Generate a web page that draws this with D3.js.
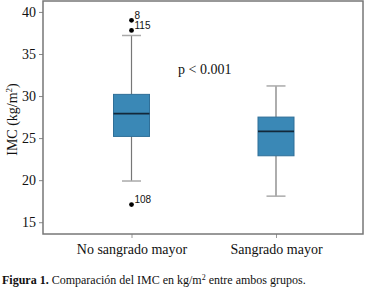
<!DOCTYPE html>
<html><head><meta charset="utf-8">
<script src="https://cdn.jsdelivr.net/npm/d3@7"></script>
<style>body{margin:0;background:#fff}svg{display:block}</style>
</head><body>
<svg id="c" width="365" height="291"></svg>
<script>
const categories = ["No sangrado mayor", "Sangrado mayor"];
const q1 = [25.2, 22.9];
const median = [27.9, 25.8];
const q3 = [30.2, 27.5];
const whiskerLow = [19.9, 18.1];
const whiskerHigh = [37.2, 31.2];
const outlierGroup = [0, 0, 0];
const outlierValues = [39.0, 37.8, 17.1];
const outlierLabels = ["8", "115", "108"];
const yTicks = [15, 20, 25, 30, 35, 40];
const yDomain = [13.6, 41.3];

const svg = d3.select("#c");
const L = 43, R = 363, T = 1, B = 234;
const y = d3.scaleLinear().domain(yDomain).range([B, T]);
const x = d3.scalePoint().domain(categories).range([L + 88.5, R - 87]);
const serif = "'Liberation Serif', 'DejaVu Serif', serif";
const sans = "'Liberation Sans', Arial, sans-serif";

// y axis
const ya = svg.append("g").attr("transform", `translate(${L},0)`)
  .call(d3.axisLeft(y).tickValues(yTicks).tickSize(4).tickPadding(3));
ya.select(".domain").remove();
ya.selectAll("line").attr("stroke", "#888");
ya.selectAll("text").attr("font-family", serif).attr("font-size", 14).attr("fill", "#111");

// x axis
const xa = svg.append("g").attr("transform", `translate(0,${B})`)
  .call(d3.axisBottom(x).tickSize(4).tickPadding(6));
xa.select(".domain").remove();
xa.selectAll("line").attr("stroke", "#999");
xa.selectAll("text").attr("font-family", serif).attr("font-size", 14).attr("fill", "#111");

// frame
svg.append("rect").attr("x", L).attr("y", T).attr("width", R - L).attr("height", B - T)
  .attr("fill", "none").attr("stroke", "#777").attr("stroke-width", 1.5);

const bw = 36, cw = 19;
const g = svg.append("g");
categories.forEach((c, i) => {
  const cx = x(c);
  g.append("line").attr("x1", cx).attr("x2", cx).attr("y1", y(whiskerHigh[i])).attr("y2", y(q3[i]))
    .attr("stroke", "#777").attr("stroke-width", 1.2);
  g.append("line").attr("x1", cx).attr("x2", cx).attr("y1", y(q1[i])).attr("y2", y(whiskerLow[i]))
    .attr("stroke", "#777").attr("stroke-width", 1.2);
  [whiskerHigh[i], whiskerLow[i]].forEach(v => {
    g.append("line").attr("x1", cx - cw / 2).attr("x2", cx + cw / 2).attr("y1", y(v)).attr("y2", y(v))
      .attr("stroke", "#aaa").attr("stroke-width", 1.5);
  });
  g.append("rect").attr("x", cx - bw / 2).attr("y", y(q3[i])).attr("width", bw)
    .attr("height", y(q1[i]) - y(q3[i])).attr("fill", "#3a88b6").attr("stroke", "#2f6f98").attr("stroke-width", 1);
  g.append("line").attr("x1", cx - bw / 2).attr("x2", cx + bw / 2).attr("y1", y(median[i])).attr("y2", y(median[i]))
    .attr("stroke", "#13283a").attr("stroke-width", 1.8);
});

// outliers
outlierValues.forEach((v, k) => {
  const cx = x(categories[outlierGroup[k]]);
  g.append("circle").attr("cx", cx).attr("cy", y(v)).attr("r", 2.4).attr("fill", "#000");
  g.append("text").attr("x", cx + 3).attr("y", y(v) - 1.5).text(outlierLabels[k])
    .attr("font-family", sans).attr("font-size", 10).attr("fill", "#111");
});

// p value
svg.append("text").attr("x", 178).attr("y", 74).text("p < 0.001")
  .attr("font-family", serif).attr("font-size", 14).attr("fill", "#111");

// y title
const yt = svg.append("text").attr("transform", `translate(17,${(T + B) / 2 + 2}) rotate(-90)`)
  .attr("text-anchor", "middle").attr("font-family", serif).attr("font-size", 14).attr("fill", "#111");
yt.append("tspan").text("IMC (kg/m");
yt.append("tspan").text("2").attr("font-size", 9).attr("dy", -5);
yt.append("tspan").text(")").attr("dy", 5);

// caption
const cap = svg.append("text").attr("x", 2).attr("y", 284)
  .attr("font-family", serif).attr("font-size", 12).attr("fill", "#111");
cap.append("tspan").text("Figura 1.").attr("font-weight", "bold");
cap.append("tspan").text(" Comparación del IMC en kg/m");
cap.append("tspan").text("2").attr("font-size", 8).attr("dy", -4);
cap.append("tspan").text(" entre ambos grupos.").attr("dy", 4);
</script>
</body></html>
